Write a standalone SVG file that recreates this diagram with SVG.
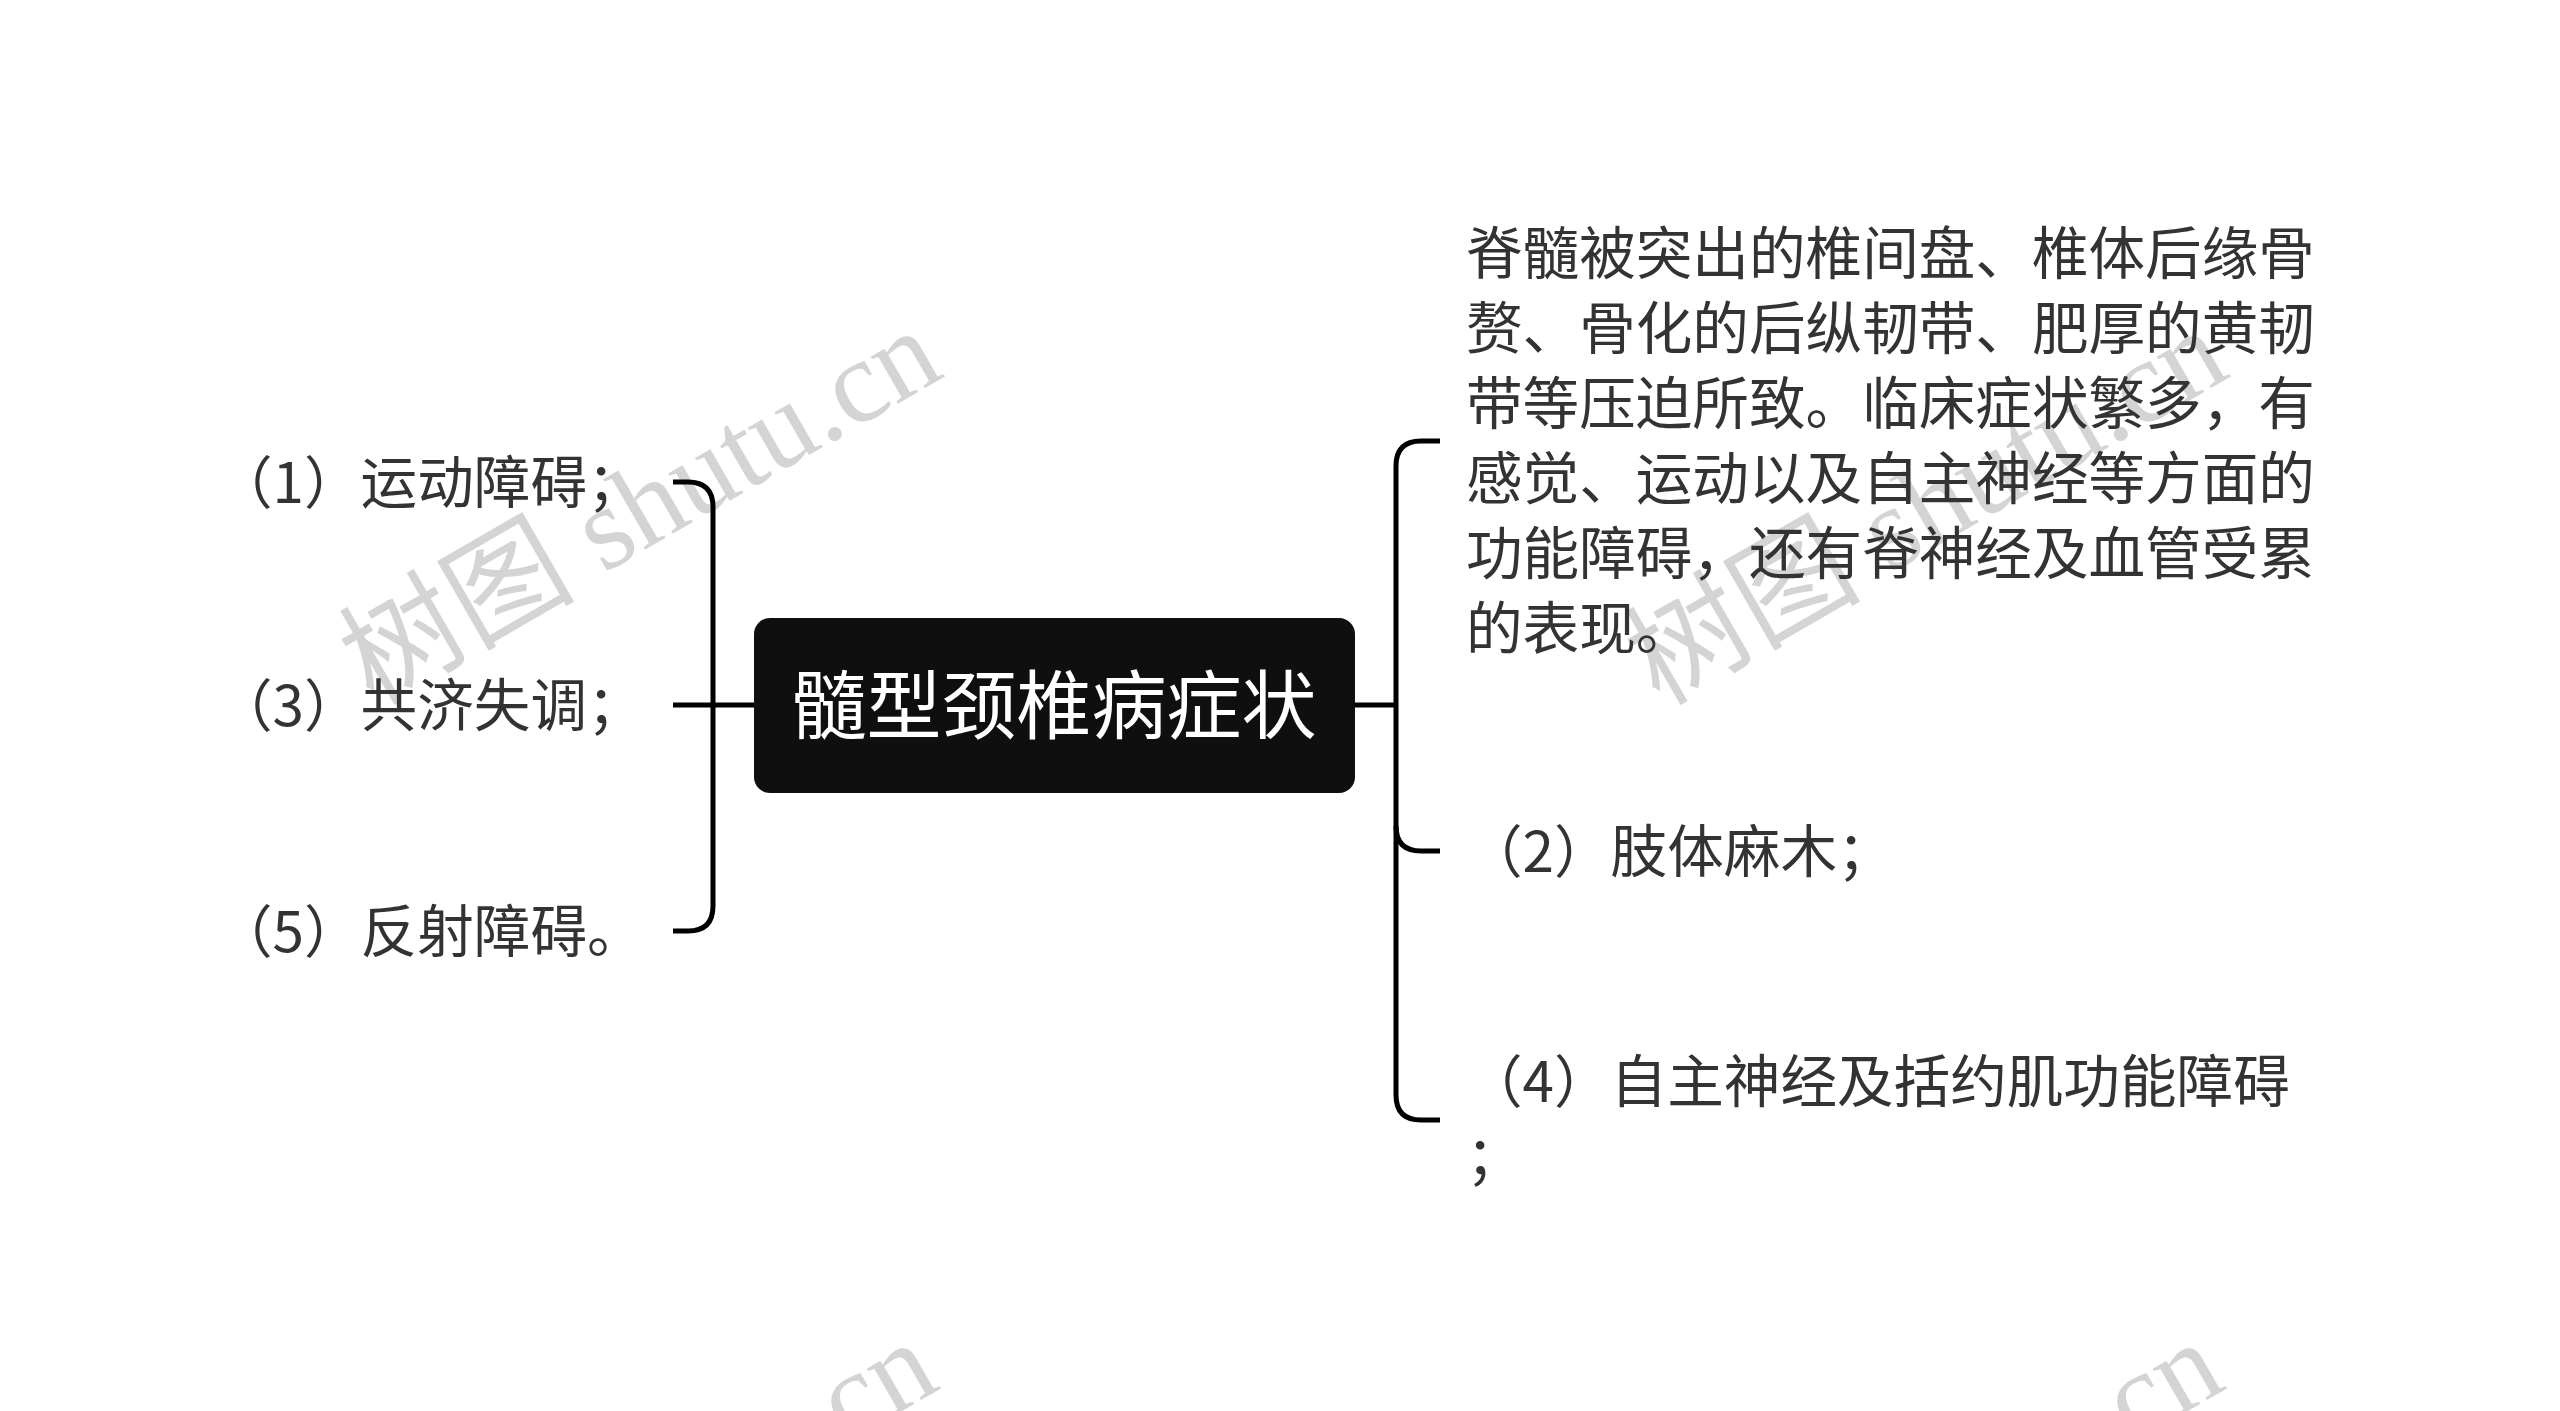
<svg xmlns="http://www.w3.org/2000/svg" width="2560" height="1411" viewBox="0 0 2560 1411">
<style>
.bg{fill:#ffffff}
.wm{font-family:"Liberation Serif","Noto Sans CJK SC",serif;font-size:118px;fill:#d4d4d4}
.t{font-family:"Noto Sans CJK SC","Noto Sans CJK JP",sans-serif;font-size:56.6px;fill:#333333}
.root-box{fill:#0f0f0f}
.root-text{font-family:"Noto Sans CJK SC","Noto Sans CJK JP",sans-serif;font-size:75px;fill:#ffffff}
.conn{fill:none;stroke:#000000;stroke-width:5;stroke-linecap:butt;stroke-linejoin:round}
</style>
<rect class="bg" x="0" y="0" width="2560" height="1411"/>
<g id="watermarks">
<text class="wm" text-anchor="middle" transform="translate(660,541) rotate(-30)">树图 shutu.cn</text>
<text class="wm" text-anchor="middle" transform="translate(1946,541) rotate(-30)">树图 shutu.cn</text>
<text class="wm" text-anchor="middle" transform="translate(656,1553) rotate(-30)">树图 shutu.cn</text>
<text class="wm" text-anchor="middle" transform="translate(1942,1553) rotate(-30)">树图 shutu.cn</text>
</g>
<g id="connectors">
<path class="conn" d="M673,482 H688 Q713,482 713,507 V906 Q713,931 688,931 H673"/>
<path class="conn" d="M673,705 H754"/>
<path class="conn" d="M1355,705 H1396"/>
<path class="conn" d="M1440,441 H1421 Q1396,441 1396,466 V1095 Q1396,1120 1421,1120 H1440"/>
<path class="conn" d="M1396,826 Q1396,851 1421,851 H1440"/>
</g>
<g id="root">
<rect class="root-box" x="754" y="618" width="601" height="175" rx="16" ry="16"/>
<text class="root-text" x="1054" y="733" text-anchor="middle">髓型颈椎病症状</text>
</g>
<g id="node-1">
<text class="t" x="216" y="503">（1）运动障碍；</text>
</g>
<g id="node-3">
<text class="t" x="216" y="726">（3）共济失调；</text>
</g>
<g id="node-5">
<text class="t" x="216" y="952">（5）反射障碍。</text>
</g>
<g id="node-desc">
<text class="t" x="1466" y="274">脊髓被突出的椎间盘、椎体后缘骨</text>
<text class="t" x="1466" y="349">赘、骨化的后纵韧带、肥厚的黄韧</text>
<text class="t" x="1466" y="424">带等压迫所致。临床症状繁多，有</text>
<text class="t" x="1466" y="499">感觉、运动以及自主神经等方面的</text>
<text class="t" x="1466" y="574">功能障碍，还有脊神经及血管受累</text>
<text class="t" x="1466" y="649">的表现。</text>
</g>
<g id="node-2">
<text class="t" x="1466" y="872">（2）肢体麻木；</text>
</g>
<g id="node-4">
<text class="t" x="1466" y="1102">（4）自主神经及括约肌功能障碍</text>
<text class="t" x="1466" y="1177">；</text>
</g>
</svg>
